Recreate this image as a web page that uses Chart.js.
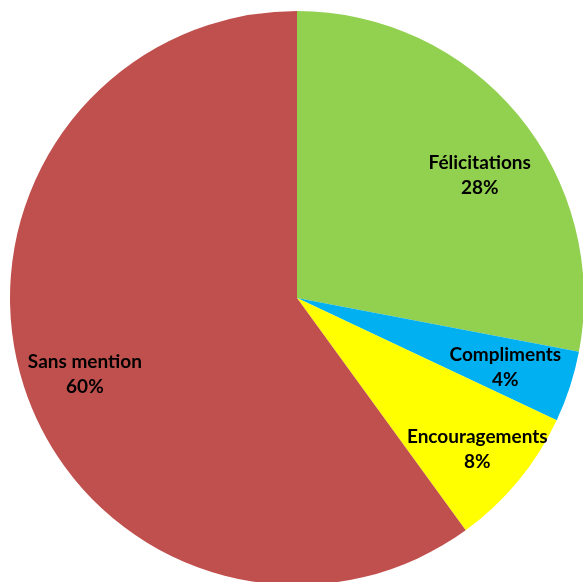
<!DOCTYPE html>
<html>
<head>
<meta charset="utf-8">
<script src="https://cdn.jsdelivr.net/npm/chart.js@4.4.0/dist/chart.umd.min.js"></script>
<style>
    html, body { margin: 0; padding: 0; background: #fff; overflow: hidden; width: 583px; height: 582px; }
    #wrap { position: absolute; left: 10px; top: 11px; width: 574px; height: 574px; }
</style>
</head>
<body>
<div id="wrap"><canvas id="pie"></canvas></div>
<script>
// Data
const categories = ['Félicitations', 'Compliments', 'Encouragements', 'Sans mention'];
const percentages = [28, 4, 8, 60];
const sliceColors = ['#92D050', '#00B0F0', '#FFFF00', '#C0504D'];

// Label placement: radius fraction and angle nudge (degrees), per slice
const labelRadius = [0.767, 0.765, 0.82, 0.785];
const labelNudge = [5.7, 0.4, 0.4, -1.7];

// Draws "Name\nNN%" inside each slice, positioned from the arc geometry
const sliceLabels = {
    id: 'sliceLabels',
    afterDatasetsDraw(chart) {
        const ctx = chart.ctx;
        const meta = chart.getDatasetMeta(0);
        ctx.save();
        ctx.fillStyle = '#000';
        ctx.textAlign = 'center';
        ctx.textBaseline = 'middle';
        ctx.font = 'bold 19px Lato, "Open Sans", sans-serif';
        meta.data.forEach((arc, i) => {
            const mid = (arc.startAngle + arc.endAngle) / 2 + labelNudge[i] * Math.PI / 180;
            const r = arc.outerRadius * labelRadius[i];
            const x = arc.x + Math.cos(mid) * r;
            const y = arc.y + Math.sin(mid) * r;
            ctx.fillText(categories[i], x, y - 12);
            ctx.fillText(percentages[i] + '%', x, y + 13);
        });
        ctx.restore();
    }
};

new Chart(document.getElementById('pie'), {
    type: 'pie',
    data: {
        labels: categories,
        datasets: [{
            data: percentages,
            backgroundColor: sliceColors,
            borderWidth: 0,
            hoverOffset: 0
        }]
    },
    options: {
        responsive: true,
        maintainAspectRatio: false,
        animation: false,
        layout: { padding: 0 },
        plugins: {
            legend: { display: false },
            tooltip: { enabled: false }
        }
    },
    plugins: [sliceLabels]
});
</script>
</body>
</html>
